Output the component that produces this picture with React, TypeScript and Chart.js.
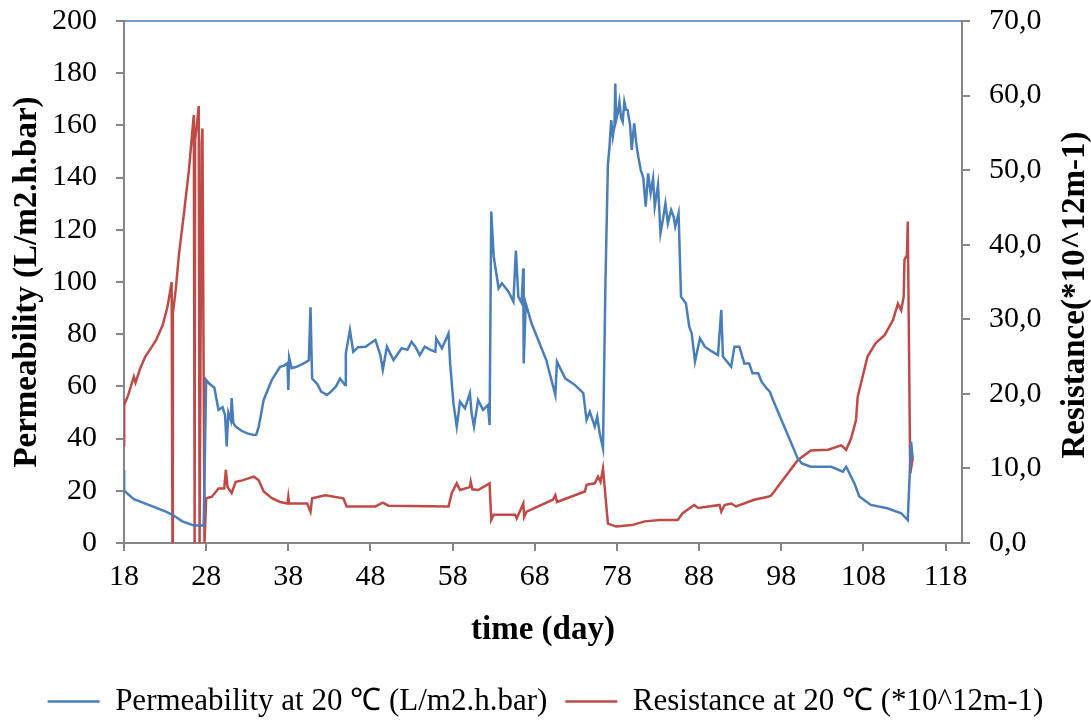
import React, { useEffect, useRef } from 'react';
import { Chart, registerables } from 'chart.js';

Chart.register(...registerables);

// ---- Data ----
const permDays = [
  18.0, 18.02, 19.2, 21.0, 23.1, 23.9, 25.1, 26.5, 27.3, 27.7,
  28.0, 28.4, 29.0, 29.5, 30.0, 30.3, 30.5, 30.7, 31.0, 31.1,
  31.3, 31.6, 32.3, 33.0, 33.8, 34.1, 34.4, 35.0, 36.0, 37.0,
  37.5, 37.9, 38.0, 38.1, 38.4, 39.0, 40.0, 40.5, 40.7, 40.9,
  41.5, 42.0, 42.7, 43.2, 43.8, 44.3, 44.9, 45.0, 45.5, 45.9,
  46.5, 47.4, 48.0, 48.6, 49.2, 49.5, 50.0, 50.8, 51.8, 52.5,
  53.0, 53.5, 54.0, 54.6, 55.3, 55.9, 56.0, 56.7, 57.5, 57.7,
  58.1, 58.5, 58.9, 59.5, 60.1, 60.3, 60.6, 61.1, 61.7, 62.3,
  62.5, 62.7, 63.0, 63.6, 64.0, 64.8, 65.4, 65.7, 66.0, 66.4,
  66.6, 66.65, 66.9, 67.6, 69.4, 70.5, 70.7, 71.7, 72.9, 73.9,
  74.3, 74.7, 75.3, 75.6, 75.9, 76.3, 76.6, 76.9, 77.1, 77.3,
  77.5, 77.7, 77.8, 77.9, 78.1, 78.3, 78.5, 78.7, 78.9, 79.1,
  79.3, 79.6, 79.8, 80.1, 80.4, 80.6, 80.9, 81.2, 81.5, 81.8,
  82.1, 82.4, 82.6, 83.0, 83.3, 83.6, 83.9, 84.2, 84.6, 84.9,
  85.1, 85.5, 85.8, 86.4, 86.8, 87.1, 87.5, 88.1, 88.7, 89.5,
  90.3, 90.7, 90.9, 91.9, 92.3, 92.9, 93.5, 94.1, 94.5, 95.2,
  95.6, 96.2, 96.6, 97.0, 100.0, 100.5, 101.6, 104.1, 105.5, 105.9,
  106.9, 107.5, 108.9, 110.9, 112.6, 113.4, 113.8, 114.0,
];
const permValues = [
  28, 20, 16.8, 14.6, 12.0, 10.8, 8.3, 6.7, 6.8, 6.5,
  62.5, 61, 59.5, 51, 52, 49, 37, 50, 47, 55.5,
  46, 44.6, 43, 42, 41.4, 41.5, 44.6, 54.8, 62.5, 67.5,
  68, 69, 58.6, 71, 67, 67.5, 69, 70, 90.3, 63,
  61, 58, 56.7, 58, 60, 63, 60.5, 72.7, 81.6, 73.3,
  75, 75.2, 76.5, 77.8, 72, 66.3, 75.2, 70.1, 74.6, 74,
  77.1, 75, 72, 75.2, 74, 73.3, 78.4, 74.6, 80.3, 68.8,
  53.5, 44.6, 54.1, 51.6, 57.4, 50, 44.6, 54.8, 51, 52.9,
  45.2, 127, 109.7, 97.6, 99.5, 96.3, 92.5, 112, 94.4, 92,
  105.2, 68.8, 91.8, 84.2, 70.1, 56.7, 69.5, 63.1, 60.5, 57.4,
  47.1, 50.3, 44.6, 48.4, 42, 36.3, 100, 145, 152, 162,
  155.7, 160, 176, 162, 164.6, 169, 163, 161.4, 169, 166,
  165.9, 160, 150.6, 160.8, 152, 148, 142.9, 140, 128.9, 141.6,
  134, 139.7, 128.9, 137.2, 118.7, 124, 130.1, 122.5, 127.6, 125,
  121.2, 126.3, 94.4, 91.8, 82.9, 80.3, 69.5, 78.4, 75.2, 73.5,
  72, 89.3, 71.4, 67.5, 75.2, 75.2, 68.8, 68.8, 65, 65,
  61.8, 59.3, 58, 54.8, 32.4, 30.5, 29.2, 29.2, 27.3, 29.2,
  22.9, 17.8, 14.6, 13.3, 11.4, 8.8, 38.8, 32.4,
];

const resDays = [
  18.0, 18.02, 18.5, 19.2, 19.4, 20.0, 20.6, 21.2, 21.9, 22.7,
  23.3, 23.8, 23.9, 23.95, 24.3, 24.7, 25.3, 25.9, 26.5, 26.6,
  26.65, 27.1, 27.2, 27.45, 27.55, 27.8, 28.0, 28.7, 29.5, 30.2,
  30.4, 30.6, 31.1, 31.6, 32.4, 33.8, 34.4, 35.0, 36.0, 37.0,
  37.9, 38.0, 38.1, 40.3, 40.7, 40.9, 42.5, 44.7, 45.1, 48.6,
  49.5, 50.2, 57.5, 57.9, 58.5, 58.9, 60.1, 60.2, 60.4, 61.1,
  62.5, 62.7, 63.0, 65.6, 65.8, 66.6, 66.7, 67.0, 70.2, 70.5,
  70.7, 74.1, 74.3, 75.3, 75.7, 76.0, 76.3, 76.9, 77.9, 79.8,
  81.4, 83.2, 85.4, 86.0, 87.4, 87.9, 90.5, 90.7, 91.1, 91.9,
  92.5, 94.7, 96.4, 96.8, 100.0, 101.6, 103.7, 105.3, 105.9, 106.5,
  107.1, 107.3, 107.9, 108.5, 109.5, 110.6, 111.6, 112.2, 112.6, 112.9,
  113.0, 113.3, 113.4, 113.7, 114.0,
];
const resValues = [
  13.1, 18.5, 19.8, 22.3, 21.5, 23.5, 25, 26, 27.2, 29.2,
  31.7, 35, 0, 30.8, 34, 38.8, 44.2, 50, 57.4, 0,
  54, 58.6, 0, 53.6, 55.6, 0, 6, 6.2, 7.3, 7.3,
  9.8, 7.5, 6.7, 8.2, 8.4, 8.9, 8.4, 6.9, 6.0, 5.5,
  5.3, 6.2, 5.3, 5.3, 4.2, 6.0, 6.4, 6.0, 4.9, 4.9,
  5.4, 5.0, 4.9, 6.7, 8.0, 7.1, 7.5, 8.2, 7.2, 7.1,
  8.0, 3.1, 3.8, 3.8, 3.3, 5.3, 3.5, 4.2, 5.8, 6.4,
  5.5, 6.9, 7.8, 8.0, 8.9, 8.2, 10.0, 2.6, 2.2, 2.4,
  2.9, 3.1, 3.1, 4.0, 5.1, 4.7, 5.1, 4.2, 5.1, 5.3,
  4.9, 5.8, 6.2, 6.4, 11.1, 12.4, 12.5, 13.1, 12.5, 14.0,
  16.5, 19.6, 22.3, 25.0, 26.8, 27.9, 29.9, 32.1, 31.2, 33.0,
  38.0, 38.6, 43.1, 9.3, 11.4,
];

const xTickValues = [18, 28, 38, 48, 58, 68, 78, 88, 98, 108, 118];

const permLabel = 'Permeability at 20 \u2103 (L/m2.h.bar)';
const resLabel = 'Resistance at 20 \u2103 (*10^12m-1)';
const leftTitle = 'Permeability (L/m2.h.bar)';
const rightTitle = 'Resistance(*10^12m-1)';
const xTitle = 'time (day)';

const BLUE = '#4A7EBB';
const RED = '#BE4B48';
const AXIS = '#868686';
const FONT = '"Liberation Serif", "Times New Roman", serif';

const W = 1091;
const H = 721;
const PLOT_LEFT = 124;
const PLOT_RIGHT = 962;
const PLOT_TOP = 21;
const PLOT_BOTTOM = 543;
const BOTTOM_PAD = -6;

const decorPlugin = {
  id: 'decor',
  afterDraw(chart: any) {
    const { ctx, chartArea } = chart;
    ctx.save();
    ctx.strokeStyle = BLUE;
    ctx.lineWidth = 1.5;
    ctx.beginPath();
    ctx.moveTo(chartArea.left, chartArea.top);
    ctx.lineTo(chartArea.right, chartArea.top);
    ctx.stroke();
    const rs = chart.scales.y1;
    ctx.translate(rs.right - 16, 295);
    ctx.rotate(-Math.PI / 2);
    ctx.font = `bold 33px ${FONT}`;
    ctx.fillStyle = '#000';
    ctx.textAlign = 'center';
    ctx.textBaseline = 'middle';
    ctx.fillText(rightTitle, 0, 0);
    ctx.restore();
  },
};

export default function App() {
  const ref = useRef<HTMLCanvasElement | null>(null);

  useEffect(() => {
    if (!ref.current) return;
    const chart = new Chart(ref.current, {
      type: 'line',
      data: {
        datasets: [
          {
            label: permLabel,
            data: permDays.map((d, i) => ({ x: d, y: permValues[i] })),
            borderColor: BLUE,
            backgroundColor: BLUE,
            borderWidth: 2.5,
            pointRadius: 0,
            tension: 0,
            yAxisID: 'y',
          },
          {
            label: resLabel,
            data: resDays.map((d, i) => ({ x: d, y: resValues[i] })),
            borderColor: RED,
            backgroundColor: RED,
            borderWidth: 2.5,
            pointRadius: 0,
            tension: 0,
            yAxisID: 'y1',
          },
        ],
      },
      options: {
        responsive: false,
        animation: false,
        events: [],
        layout: { padding: { top: PLOT_TOP, bottom: BOTTOM_PAD, left: 0, right: 0 } },
        plugins: {
          legend: {
            position: 'bottom',
            labels: {
              usePointStyle: true,
              pointStyle: 'line',
              pointStyleWidth: 52,
              boxHeight: 31,
              padding: 18,
              color: '#000',
              font: { family: FONT, size: 31 },
            },
          },
          tooltip: { enabled: false },
        },
        scales: {
          x: {
            type: 'linear',
            min: 18,
            max: 120,
            afterBuildTicks: (scale: any) => {
              scale.ticks = xTickValues.map((v) => ({ value: v }));
            },
            afterFit: (scale: any) => {
              const lh = scale.chart.legend ? scale.chart.legend.height : 0;
              scale.height = H - PLOT_BOTTOM - lh - BOTTOM_PAD;
              scale.paddingLeft = 0;
              scale.paddingRight = 0;
            },
            grid: { drawOnChartArea: false, color: AXIS, tickLength: 8, lineWidth: 2 },
            border: { color: AXIS, width: 2 },
            ticks: { color: '#000', font: { family: FONT, size: 30 }, padding: 8, maxRotation: 0, autoSkip: false },
            title: {
              display: true,
              text: xTitle,
              color: '#000',
              font: { family: FONT, size: 33, weight: 'bold' },
              padding: { top: 0, bottom: 18 },
            },
          },
          y: {
            type: 'linear',
            position: 'left',
            min: 0,
            max: 200,
            afterFit: (scale: any) => {
              scale.width = PLOT_LEFT;
              scale.paddingTop = 0;
              scale.paddingBottom = 0;
            },
            grid: { drawOnChartArea: false, color: AXIS, tickLength: 8, lineWidth: 2 },
            border: { color: AXIS, width: 2 },
            ticks: { stepSize: 20, color: '#000', font: { family: FONT, size: 30 }, padding: 19 },
            title: {
              display: true,
              text: leftTitle,
              color: '#000',
              font: { family: FONT, size: 33, weight: 'bold' },
              padding: { top: 8, bottom: 0 },
            },
          },
          y1: {
            type: 'linear',
            position: 'right',
            min: 0,
            max: 70,
            afterFit: (scale: any) => {
              scale.width = W - PLOT_RIGHT;
              scale.paddingTop = 0;
              scale.paddingBottom = 0;
            },
            grid: { drawOnChartArea: false, color: AXIS, tickLength: 8, lineWidth: 2 },
            border: { color: AXIS, width: 2 },
            ticks: {
              stepSize: 10,
              color: '#000',
              font: { family: FONT, size: 30 },
              padding: 19,
              callback: (v: any) => Number(v).toFixed(1).replace('.', ','),
            },
          },
        },
      },
      plugins: [decorPlugin],
    });
    return () => chart.destroy();
  }, []);

  return (
    <div style={{ position: 'absolute', left: 0, top: 0, width: W, height: H, background: '#fff' }}>
      <canvas ref={ref} width={W} height={H} style={{ display: 'block' }} />
    </div>
  );
}
